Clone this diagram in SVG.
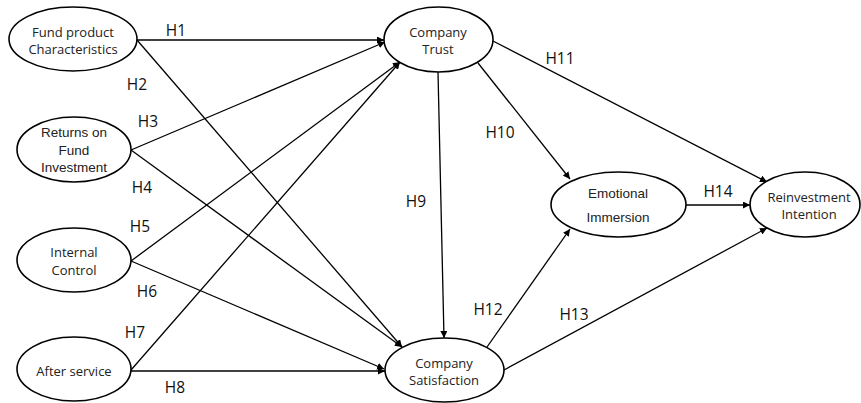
<svg xmlns="http://www.w3.org/2000/svg" width="861" height="403" viewBox="0 0 861 403">
<style>
.n{fill:#fff;stroke:#000;stroke-width:1.6}
.t{font-family:"Open Sans","Noto Sans",sans-serif;font-size:13px;text-anchor:middle;fill:#222}
.a{font-family:"Liberation Sans",Arial,sans-serif;font-size:13.5px;text-anchor:middle;fill:#222}
.h{font-family:"Open Sans","Noto Sans",sans-serif;font-size:15.5px;text-anchor:middle;fill:#111}
.c{stroke:#000;stroke-width:1.3;fill:none;marker-end:url(#ar)}
</style>
<defs>
<marker id="ar" viewBox="0 0 10 10" refX="10" refY="5" markerWidth="7" markerHeight="7" markerUnits="userSpaceOnUse" orient="auto">
<path d="M0,0 L10,5 L0,10 z" fill="#000"/>
</marker>
</defs>
<rect width="861" height="403" fill="#fff"/>
<g id="connectors">
<line class="c" x1="137" y1="40" x2="384" y2="40"/>
<line class="c" x1="137" y1="40" x2="402" y2="347"/>
<line class="c" x1="131" y1="150" x2="385" y2="42"/>
<line class="c" x1="131" y1="150" x2="402" y2="347"/>
<line class="c" x1="131" y1="261" x2="400" y2="62"/>
<line class="c" x1="131" y1="261" x2="384" y2="369"/>
<line class="c" x1="131" y1="370" x2="400" y2="62"/>
<line class="c" x1="131" y1="371" x2="385" y2="371"/>
<line class="c" x1="438" y1="72" x2="444" y2="338"/>
<line class="c" x1="478" y1="63" x2="570" y2="179"/>
<line class="c" x1="493" y1="41" x2="767" y2="182"/>
<line class="c" x1="487" y1="347" x2="570" y2="229"/>
<line class="c" x1="504" y1="370" x2="767" y2="228"/>
<line class="c" x1="686" y1="205" x2="750" y2="205"/>
</g>
<g id="labels">
<text class="h" x="176" y="36">H1</text>
<text class="h" x="137" y="90">H2</text>
<text class="h" x="148" y="127">H3</text>
<text class="h" x="142" y="193">H4</text>
<text class="h" x="140" y="232">H5</text>
<text class="h" x="147" y="297">H6</text>
<text class="h" x="135" y="338">H7</text>
<text class="h" x="175" y="393">H8</text>
<text class="h" x="416" y="207">H9</text>
<text class="h" x="500" y="138">H10</text>
<text class="h" x="560" y="64">H11</text>
<text class="h" x="488" y="315">H12</text>
<text class="h" x="574" y="320">H13</text>
<text class="h" x="718" y="197">H14</text>
</g>
<g id="fund-product">
<ellipse class="n" cx="73" cy="39" rx="64" ry="32"/>
<text class="t" x="73" y="37">Fund product</text>
<text class="t" x="73" y="54">Characteristics</text>
</g>
<g id="returns">
<ellipse class="n" cx="74" cy="149.5" rx="57" ry="32.5"/>
<text class="a" x="74" y="137">Returns on</text>
<text class="a" x="74" y="155">Fund</text>
<text class="a" x="74" y="172">Investment</text>
</g>
<g id="internal-control">
<ellipse class="n" cx="74" cy="260" rx="57" ry="32"/>
<text class="t" x="74" y="257">Internal</text>
<text class="t" x="74" y="275">Control</text>
</g>
<g id="after-service">
<ellipse class="n" cx="74" cy="369" rx="57" ry="32"/>
<text class="t" x="74" y="376">After service</text>
</g>
<g id="company-trust">
<ellipse class="n" cx="438.5" cy="39.5" rx="54.5" ry="32.5"/>
<text class="t" x="438" y="37">Company</text>
<text class="t" x="438" y="54">Trust</text>
</g>
<g id="company-satisfaction">
<ellipse class="n" cx="444.5" cy="370" rx="59.5" ry="32"/>
<text class="t" x="444" y="368">Company</text>
<text class="t" x="444" y="385">Satisfaction</text>
</g>
<g id="emotional-immersion">
<ellipse class="n" cx="618.5" cy="204.5" rx="67.5" ry="32.5"/>
<text class="a" x="618" y="198">Emotional</text>
<text class="a" x="618" y="222">Immersion</text>
</g>
<g id="reinvestment-intention">
<ellipse class="n" cx="805" cy="204.5" rx="55" ry="32.5"/>
<text class="t" x="809" y="202">Reinvestment</text>
<text class="t" x="809" y="219">Intention</text>
</g>
</svg>
